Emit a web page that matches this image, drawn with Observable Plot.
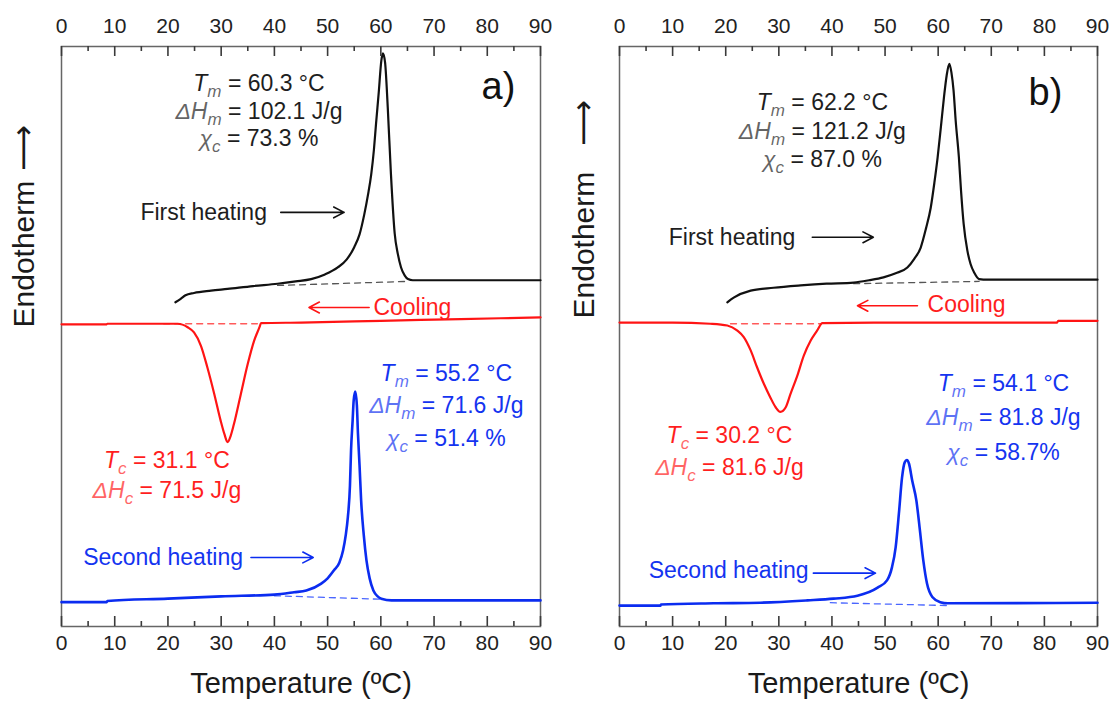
<!DOCTYPE html>
<html><head><meta charset="utf-8">
<script src="https://cdn.jsdelivr.net/npm/d3@7"></script>
<script src="https://cdn.jsdelivr.net/npm/@observablehq/plot@0.6"></script>
<style>
body{margin:0;background:#fff;}
#wrap{display:flex;width:1115px;height:704px;overflow:hidden;}
#wrap svg{display:block;overflow:visible;}
</style></head><body><div id="wrap"></div>
<script>
// ---------- tick values ----------
const ticksMajor = [0, 10, 20, 30, 40, 50, 60, 70, 80, 90];
const ticksMinor = [5, 15, 25, 35, 45, 55, 65, 75, 85];
const xTitle = "Temperature (ºC)";
const yTitle = "Endotherm";
const yDomain = [0, 10];

// ---------- panel a) ----------
const aFirstT = [21.4, 22.4, 23.3, 24.9, 28.1, 31.2, 36.0, 40.6, 44.0, 46.9, 49.5, 51.9, 53.6, 55.0, 56.0, 56.9, 57.6, 58.2, 58.7, 59.1, 59.6, 60.1, 60.4, 60.8, 61.3, 61.9, 62.6, 63.2, 63.8, 64.5, 65.1, 66.0, 69.0, 90.0];
const aFirstV = [5.59, 5.65, 5.71, 5.75, 5.79, 5.82, 5.87, 5.91, 5.95, 5.99, 6.07, 6.19, 6.33, 6.54, 6.76, 7.11, 7.45, 7.80, 8.22, 8.67, 9.20, 9.76, 9.88, 9.72, 8.95, 7.80, 6.78, 6.42, 6.19, 6.05, 5.99, 5.97, 5.97, 5.97];
const aFirstBaseT = [40.6, 65.1];
const aFirstBaseV = [5.88, 5.95];

const aCoolT = [0, 8.5, 8.6, 15, 21.8, 23.7, 24.9, 26.2, 27.4, 28.7, 29.9, 30.6, 31.2, 31.8, 32.4, 33.7, 35.0, 36.2, 37.2, 37.5, 45, 60, 75, 90];
const aCoolV = [5.21, 5.21, 5.22, 5.22, 5.22, 5.16, 5.07, 4.84, 4.47, 4.01, 3.55, 3.32, 3.18, 3.29, 3.49, 4.01, 4.53, 4.93, 5.16, 5.23, 5.24, 5.27, 5.30, 5.33];
const aCoolBaseT = [19.2, 36.8];
const aCoolBaseV = [5.22, 5.22];

const aSecondT = [0, 8.5, 8.6, 20, 30, 40, 43.7, 46.0, 48.8, 50.0, 51.2, 52.2, 52.9, 53.4, 53.8, 54.2, 54.4, 54.7, 54.9, 55.2, 55.5, 55.7, 56.0, 56.3, 56.8, 57.3, 57.9, 58.6, 59.4, 60.1, 62.0, 64.5, 90];
const aSecondV = [0.42, 0.42, 0.44, 0.48, 0.52, 0.55, 0.59, 0.62, 0.74, 0.83, 0.97, 1.10, 1.31, 1.57, 1.88, 2.43, 3.03, 3.55, 3.90, 4.05, 3.81, 3.33, 2.78, 2.17, 1.57, 1.14, 0.83, 0.62, 0.52, 0.48, 0.45, 0.45, 0.45];
const aSecondBaseT = [40.0, 60.1];
const aSecondBaseV = [0.53, 0.47];

const aFirstStats = [["T", "m", " = 60.3 °C"], ["ΔH", "m", " = 102.1 J/g"], ["χ", "c", " = 73.3 %"]];
const aCoolStats = [["T", "c", " = 31.1 °C"], ["ΔH", "c", " = 71.5 J/g"]];
const aSecondStats = [["T", "m", " = 55.2 °C"], ["ΔH", "m", " = 71.6 J/g"], ["χ", "c", " = 51.4 %"]];

// ---------- panel b) ----------
const bFirstT = [20.3, 21.0, 21.5, 24.7, 29.0, 34.1, 39.0, 44.1, 47.0, 49.7, 52.0, 54.2, 55.5, 56.7, 57.7, 58.6, 59.3, 59.9, 60.5, 61.1, 61.6, 62.1, 62.5, 62.9, 63.3, 63.9, 64.3, 64.8, 65.5, 66.1, 66.8, 67.7, 69.3, 90];
const bFirstV = [5.59, 5.64, 5.67, 5.79, 5.84, 5.88, 5.91, 5.93, 5.97, 6.02, 6.09, 6.19, 6.34, 6.53, 6.86, 7.22, 7.66, 8.09, 8.60, 9.13, 9.50, 9.70, 9.55, 9.24, 8.72, 8.09, 7.52, 6.94, 6.48, 6.25, 6.10, 5.99, 5.98, 5.98];
const bFirstBaseT = [44.1, 67.7];
const bFirstBaseV = [5.91, 5.95];

const bCoolT = [0, 10, 17.1, 20.3, 22.2, 23.4, 24.7, 25.9, 27.2, 28.4, 29.4, 30.3, 31.3, 32.2, 33.5, 34.7, 36.0, 37.2, 38.2, 50, 82.4, 82.6, 90];
const bCoolV = [5.24, 5.24, 5.22, 5.19, 5.10, 4.99, 4.76, 4.47, 4.18, 3.95, 3.78, 3.70, 3.78, 4.01, 4.33, 4.67, 4.93, 5.10, 5.23, 5.24, 5.24, 5.27, 5.27];
const bCoolBaseT = [20.9, 37.8];
const bCoolBaseV = [5.22, 5.22];

const bSecondT = [0, 7.7, 7.8, 17.7, 26.5, 35.4, 40.3, 44.8, 48.6, 50.4, 51.3, 52.0, 52.6, 53.2, 53.7, 54.1, 54.5, 55.1, 55.9, 56.5, 57.2, 57.9, 58.9, 60.4, 61.8, 90];
const bSecondV = [0.36, 0.36, 0.38, 0.40, 0.41, 0.45, 0.48, 0.53, 0.67, 0.80, 1.02, 1.37, 1.94, 2.57, 2.83, 2.87, 2.81, 2.52, 2.17, 1.71, 1.14, 0.74, 0.51, 0.42, 0.40, 0.41];
const bSecondBaseT = [39.7, 62.3];
const bSecondBaseV = [0.41, 0.36];

const bFirstStats = [["T", "m", " = 62.2 °C"], ["ΔH", "m", " = 121.2 J/g"], ["χ", "c", " = 87.0 %"]];
const bCoolStats = [["T", "c", " = 30.2 °C"], ["ΔH", "c", " = 81.6 J/g"]];
const bSecondStats = [["T", "m", " = 54.1 °C"], ["ΔH", "m", " = 81.8 J/g"], ["χ", "c", " = 58.7%"]];

// ---------- styling / layout ----------
const COL = {
  black: "#111111", red: "#ff1414", blue: "#0b2cf0",
  blackBase: "#555555", redBase: "#ff5a5a", blueBase: "#4a66ff",
  blackText: "#1e1e1e", redText: "#ff1e1e", blueText: "#1434f0"
};
const FONT = "Arial, 'Liberation Sans', Helvetica, sans-serif";
const H = 704, MT = 46, MB = 78;
const unitsPerPx = (yDomain[1] - yDomain[0]) / (H - MT - MB);

function series(T, V) { return T.map((t, i) => ({t, v: V[i]})); }

function statRows(stats, x, ys) {
  return stats.map((s, i) => ({sym: s[0], sub: s[1], rest: s[2], x, y: ys[i]}));
}

function tickRows(ticks, edge, lenPx) {
  const dir = edge === "bottom" ? 1 : -1;
  const y0 = edge === "bottom" ? yDomain[0] : yDomain[1];
  return ticks.map(t => ({t, ya: y0, yb: y0 + dir * lenPx * unitsPerPx}));
}

function panel(p) {
  const lineOpts = (stroke, w) => ({x: "t", y: "v", stroke, strokeWidth: w, curve: "monotone-x"});
  const baseOpts = (stroke) => ({x: "t", y: "v", stroke, strokeWidth: 1.3, strokeDasharray: "6,5"});
  const statText = (rows, fill) => Plot.text(rows, {
    x: "x", y: "y", text: d => d.sym + d.sub + d.rest, fill, fontSize: 23, textAnchor: "middle"
  });
  const ticks = (rows) => Plot.ruleX(rows, {x: "t", y1: "ya", y2: "yb", stroke: "#3a3a3a", strokeWidth: 1.6});
  const labelAxis = (anchor, pad) => Plot.axisX(ticksMajor, {
    anchor, tickSize: 0, tickPadding: pad, fontSize: 21, fill: "#222", label: null, tickFormat: d => String(d)
  });

  const svg = Plot.plot({
    width: p.width, height: H,
    marginLeft: p.marginLeft, marginRight: p.marginRight, marginTop: MT, marginBottom: MB,
    style: {fontFamily: FONT, background: "white", overflow: "visible"},
    x: {domain: [0, 90], axis: null, label: null},
    y: {domain: yDomain, axis: null, label: null},
    marks: [
      Plot.frame({stroke: "#666", fill: "none", strokeWidth: 1.5}),
      labelAxis("bottom", 9),
      labelAxis("top", 14),
      // dashed baselines
      Plot.line(series(p.firstBaseT, p.firstBaseV), baseOpts(COL.blackBase)),
      Plot.line(series(p.coolBaseT, p.coolBaseV), baseOpts(COL.redBase)),
      Plot.line(series(p.secondBaseT, p.secondBaseV), baseOpts(COL.blueBase)),
      // curves
      Plot.line(series(p.firstT, p.firstV), lineOpts(COL.black, 2.2)),
      Plot.line(series(p.coolT, p.coolV), lineOpts(COL.red, 2.2)),
      Plot.line(series(p.secondT, p.secondV), lineOpts(COL.blue, 2.6)),
      // run labels and arrows
      Plot.text([p.firstLab], {x: "x", y: "y", text: d => d.text, textAnchor: "end", fontSize: 23, fill: COL.blackText}),
      Plot.arrow([p.firstLab], {x1: "ax1", x2: "ax2", y1: "ay", y2: "ay", stroke: COL.black, strokeWidth: 1.6, headLength: 11, headAngle: 55}),
      Plot.text([p.coolLab], {x: "x", y: "y", text: d => d.text, textAnchor: "start", fontSize: 23, fill: COL.redText}),
      Plot.arrow([p.coolLab], {x1: "ax1", x2: "ax2", y1: "ay", y2: "ay", stroke: COL.red, strokeWidth: 1.6, headLength: 11, headAngle: 55}),
      Plot.text([p.secondLab], {x: "x", y: "y", text: d => d.text, textAnchor: "end", fontSize: 23, fill: COL.blueText}),
      Plot.arrow([p.secondLab], {x1: "ax1", x2: "ax2", y1: "ay", y2: "ay", stroke: COL.blue, strokeWidth: 1.6, headLength: 11, headAngle: 55}),
      // stats
      statText(p.firstStats, COL.blackText),
      statText(p.coolStats, COL.redText),
      statText(p.secondStats, COL.blueText),
      // panel letter
      Plot.text([p.letter], {x: "x", y: "y", text: d => d.text, fontSize: 38, fill: "#111"}),
      // axis titles
      Plot.text([xTitle], {frameAnchor: "bottom", dy: 66, text: d => d, fontSize: 29, fill: "#1a1a1a"}),
      Plot.text([yTitle], {frameAnchor: "left", dx: p.endoDx, dy: p.endoDy, rotate: -90, text: d => d, fontSize: 30, fill: "#1a1a1a"}),
      // inward ticks on the top and bottom frame edges (drawn last, on top)
      ticks(tickRows(ticksMajor, "bottom", 10)),
      ticks(tickRows(ticksMajor, "top", 10)),
      ticks(tickRows(ticksMinor, "bottom", 5)),
      ticks(tickRows(ticksMinor, "top", 5))
    ]
  });

  // rich text: italic symbols with subscripts (matched by their plain content)
  const allRows = [...p.firstStats, ...p.coolStats, ...p.secondStats];
  d3.select(svg).selectAll("text").each(function() {
    const el = d3.select(this);
    const content = this.textContent;
    const r = allRows.find(r => r.sym + r.sub + r.rest === content);
    if (r) {
      el.text(null);
      el.append("tspan").attr("font-style", "italic").attr("fill-opacity", r.sym === "T" ? 1 : 0.7).text(r.sym);
      el.append("tspan").attr("font-style", "italic").attr("font-size", "17px").attr("dy", "6").attr("fill-opacity", 0.7).text(r.sub);
      el.append("tspan").attr("dy", "-6").text(r.rest);
    } else if (content === yTitle) {
      el.append("tspan").attr("dx", p.endoGap).attr("font-family", "DejaVu Sans").attr("font-size", "32px").text("⟶");
    }
  });
  return svg;
}

const panelA = {
  width: 557, marginLeft: 61, marginRight: 17, endoDx: -37, endoDy: -9, endoGap: 10,
  firstT: aFirstT, firstV: aFirstV, firstBaseT: aFirstBaseT, firstBaseV: aFirstBaseV,
  coolT: aCoolT, coolV: aCoolV, coolBaseT: aCoolBaseT, coolBaseV: aCoolBaseV,
  secondT: aSecondT, secondV: aSecondV, secondBaseT: aSecondBaseT, secondBaseV: aSecondBaseV,
  firstStats: statRows(aFirstStats, 37.1, [9.36, 8.88, 8.41]),
  coolStats: statRows(aCoolStats, 19.8, [2.86, 2.34]),
  secondStats: statRows(aSecondStats, 72.3, [4.36, 3.81, 3.24]),
  firstLab: {text: "First heating", x: 38.6, y: 7.14, ax1: 41.2, ax2: 53.1, ay: 7.14},
  coolLab: {text: "Cooling", x: 58.6, y: 5.5, ax1: 57.8, ax2: 46.5, ay: 5.5},
  secondLab: {text: "Second heating", x: 34.1, y: 1.19, ax1: 35.6, ax2: 47.3, ay: 1.19},
  letter: {text: "a)", x: 82.1, y: 9.3}
};
const panelB = {
  width: 558, marginLeft: 62, marginRight: 18, endoDx: -35, endoDy: -18, endoGap: 26,
  firstT: bFirstT, firstV: bFirstV, firstBaseT: bFirstBaseT, firstBaseV: bFirstBaseV,
  coolT: bCoolT, coolV: bCoolV, coolBaseT: bCoolBaseT, coolBaseV: bCoolBaseV,
  secondT: bSecondT, secondV: bSecondV, secondBaseT: bSecondBaseT, secondBaseV: bSecondBaseV,
  firstStats: statRows(bFirstStats, 38.2, [9.03, 8.53, 8.05]),
  coolStats: statRows(bCoolStats, 20.7, [3.29, 2.74]),
  secondStats: statRows(bSecondStats, 72.3, [4.19, 3.60, 3.0]),
  firstLab: {text: "First heating", x: 33.1, y: 6.71, ax1: 36.3, ax2: 47.8, ay: 6.71},
  coolLab: {text: "Cooling", x: 58.0, y: 5.55, ax1: 56.1, ax2: 44.8, ay: 5.53},
  secondLab: {text: "Second heating", x: 35.6, y: 0.97, ax1: 36.5, ax2: 48.2, ay: 0.92},
  letter: {text: "b)", x: 80.2, y: 9.2}
};

const wrap = document.getElementById("wrap");
wrap.appendChild(panel(panelA));
wrap.appendChild(panel(panelB));
</script>
</body></html>
